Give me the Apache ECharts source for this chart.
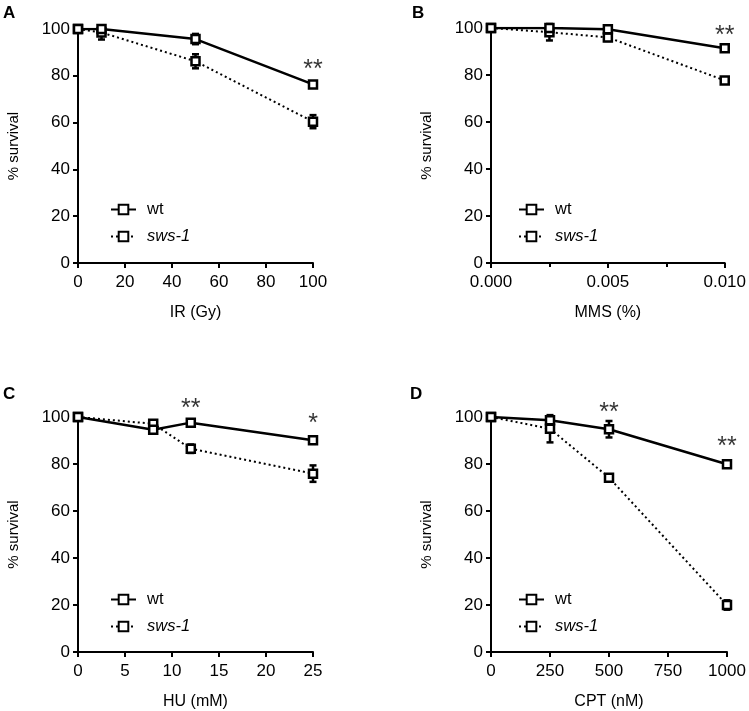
<!DOCTYPE html>
<html>
<head>
<meta charset="utf-8">
<script src="https://cdn.jsdelivr.net/npm/echarts@6/dist/echarts.min.js"></script>
<style>
  html, body { margin: 0; padding: 0; background: #fff; }
  #chart { width: 749px; height: 711px; }
</style>
</head>
<body>
<div id="chart"></div>
<script>
// panel A - IR
const irDose = [0, 10, 50, 100];
const irWt = [100, 100, 95.7, 76.3];
const irWtErr = [0, 0, 2.2, 1];
const irSws = [100, 98.5, 86.2, 60.4];
const irSwsErr = [0, 3, 3, 2.8];
const irStars = [[100, 85, '**']];

// panel B - MMS
const mmsDose = [0, 0.0025, 0.005, 0.01];
const mmsWt = [100, 100, 99.5, 91.4];
const mmsWtErr = [0, 0, 0, 1.5];
const mmsSws = [100, 98.2, 96, 77.7];
const mmsSwsErr = [0, 3.5, 1.5, 1];
const mmsStars = [[0.01, 99.3, '**']];

// panel C - HU
const huDose = [0, 8, 12, 25];
const huWt = [100, 94.6, 97.6, 90.1];
const huWtErr = [0, 1, 1, 1.5];
const huSws = [100, 97.1, 86.5, 75.9];
const huSwsErr = [0, 1.5, 1.8, 3.5];
const huStars = [[12, 106, '**'], [25, 99.7, '*']];

// panel D - CPT
const cptDose = [0, 250, 500, 1000];
const cptWt = [100, 98.6, 94.8, 79.9];
const cptWtErr = [0, 1, 3.5, 1];
const cptSws = [100, 95, 74.2, 20];
const cptSwsErr = [0, 5.8, 1, 2];
const cptStars = [[500, 104.3, '**'], [1000, 89.6, '**']];

const panels = [
  { letter: 'A', name: 'IR (Gy)', dose: irDose, wt: irWt, wtErr: irWtErr, sws: irSws, swsErr: irSwsErr, stars: irStars,
    max: 100, interval: 20, fmt: v => v },
  { letter: 'B', name: 'MMS (%)', dose: mmsDose, wt: mmsWt, wtErr: mmsWtErr, sws: mmsSws, swsErr: mmsSwsErr, stars: mmsStars,
    max: 0.01, interval: 0.005, fmt: v => v.toFixed(3), minor: true },
  { letter: 'C', name: 'HU (mM)', dose: huDose, wt: huWt, wtErr: huWtErr, sws: huSws, swsErr: huSwsErr, stars: huStars,
    max: 25, interval: 5, fmt: v => v },
  { letter: 'D', name: 'CPT (nM)', dose: cptDose, wt: cptWt, wtErr: cptWtErr, sws: cptSws, swsErr: cptSwsErr, stars: cptStars,
    max: 1000, interval: 250, fmt: v => v }
];

// layout of the four plots (pixels)
const boxes = [
  { left: 78, top: 29, width: 235, height: 234, lx: 3, ly: 5, legLeft: 110, legTop: 201 },
  { left: 491, top: 28, width: 236, height: 235, lx: 412, ly: 5, legLeft: 518, legTop: 201 },
  { left: 78, top: 417, width: 235, height: 235, lx: 3, ly: 386, legLeft: 110, legTop: 591 },
  { left: 491, top: 417, width: 236, height: 237, lx: 410, ly: 386, legLeft: 518, legTop: 591 }
];

const FONT = 'Liberation Sans, Arial, Helvetica, sans-serif';

const errBars = (dose, vals, errs) =>
  dose.map((d, i) => [d, vals[i] - errs[i], vals[i] + errs[i]]).filter((r, i) => errs[i] > 0);

const renderErr = (params, api) => {
  const x = api.value(0);
  const lo = api.coord([x, api.value(1)]);
  const hi = api.coord([x, api.value(2)]);
  const w = 3.5;
  const st = { stroke: '#000', lineWidth: 2.5 };
  return {
    type: 'group',
    children: [
      { type: 'line', shape: { x1: lo[0], y1: lo[1], x2: hi[0], y2: hi[1] }, style: st },
      { type: 'line', shape: { x1: lo[0] - w, y1: lo[1], x2: lo[0] + w, y2: lo[1] }, style: st },
      { type: 'line', shape: { x1: hi[0] - w, y1: hi[1], x2: hi[0] + w, y2: hi[1] }, style: st }
    ]
  };
};

const grid = [], xAxis = [], yAxis = [], series = [], legend = [], title = [];

panels.forEach((p, i) => {
  const b = boxes[i];
  grid.push({ left: b.left, top: b.top, width: b.width, height: b.height });
  title.push({ text: p.letter, left: b.lx, top: b.ly, padding: 0,
    textStyle: { fontFamily: FONT, fontSize: 17, fontWeight: 'bold', color: '#000' } });

  xAxis.push({
    type: 'value', gridIndex: i, min: 0, max: p.max, interval: p.interval,
    name: p.name, nameLocation: 'middle', nameGap: 42,
    nameTextStyle: { fontFamily: FONT, fontSize: 16, color: '#000' },
    axisLine: { lineStyle: { color: '#000', width: 2 } },
    axisTick: { length: 5, lineStyle: { color: '#000', width: 2 } },
    minorTick: { show: !!p.minor, splitNumber: 2, length: 4, lineStyle: { color: '#000', width: 2 } },
    axisLabel: { fontFamily: FONT, fontSize: 17, color: '#000', margin: 11, formatter: p.fmt },
    splitLine: { show: false }
  });
  yAxis.push({
    type: 'value', gridIndex: i, min: 0, max: 100, interval: 20,
    name: '% survival', nameLocation: 'middle', nameGap: 57,
    nameTextStyle: { fontFamily: FONT, fontSize: 15, color: '#000' },
    axisLine: { show: true, lineStyle: { color: '#000', width: 2 } },
    axisTick: { show: true, length: 5, lineStyle: { color: '#000', width: 2 } },
    axisLabel: { fontFamily: FONT, fontSize: 17, color: '#000', margin: 8 },
    splitLine: { show: false }
  });

  const marker = {
    symbol: 'rect', symbolSize: 8,
    itemStyle: { color: '#fff', borderColor: '#000', borderWidth: 2.5 }
  };
  series.push({
    type: 'custom', xAxisIndex: i, yAxisIndex: i, z: 1,
    renderItem: renderErr, encode: { x: 0, y: [1, 2] },
    data: errBars(p.dose, p.sws, p.swsErr), silent: true
  });
  series.push({
    type: 'custom', xAxisIndex: i, yAxisIndex: i, z: 1,
    renderItem: renderErr, encode: { x: 0, y: [1, 2] },
    data: errBars(p.dose, p.wt, p.wtErr), silent: true
  });
  series.push(Object.assign({
    name: 'sws-1', type: 'line', xAxisIndex: i, yAxisIndex: i, z: 2,
    data: p.dose.map((d, k) => [d, p.sws[k]]),
    lineStyle: { color: '#000', width: 2, type: [2, 3] }
  }, marker));
  series.push(Object.assign({
    name: 'wt', type: 'line', xAxisIndex: i, yAxisIndex: i, z: 3,
    data: p.dose.map((d, k) => [d, p.wt[k]]),
    lineStyle: { color: '#000', width: 2.5 }
  }, marker));
  series.push({
    type: 'scatter', xAxisIndex: i, yAxisIndex: i, symbolSize: 0, clip: false, silent: true,
    data: p.stars.map(s => [s[0], s[1]]),
    label: {
      show: true, position: 'inside', offset: [0, 6],
      formatter: q => p.stars[q.dataIndex][2],
      fontFamily: FONT, fontSize: 25, color: '#000'
    }
  });

  legend.push({
    orient: 'vertical', left: b.legLeft, top: b.legTop, padding: 0,
    itemWidth: 25, itemHeight: 12, itemGap: 10,
    selectedMode: false,
    textStyle: { fontFamily: FONT, fontSize: 16.5, color: '#000', padding: [0, 0, 0, 6] },
    data: [
      { name: 'wt' },
      { name: 'sws-1', textStyle: { fontStyle: 'italic' } }
    ]
  });
});

const chart = echarts.init(document.getElementById('chart'), null, { renderer: 'canvas' });
chart.setOption({
  backgroundColor: '#fff',
  animation: false,
  title, grid, xAxis, yAxis, legend, series
});
</script>
</body>
</html>
